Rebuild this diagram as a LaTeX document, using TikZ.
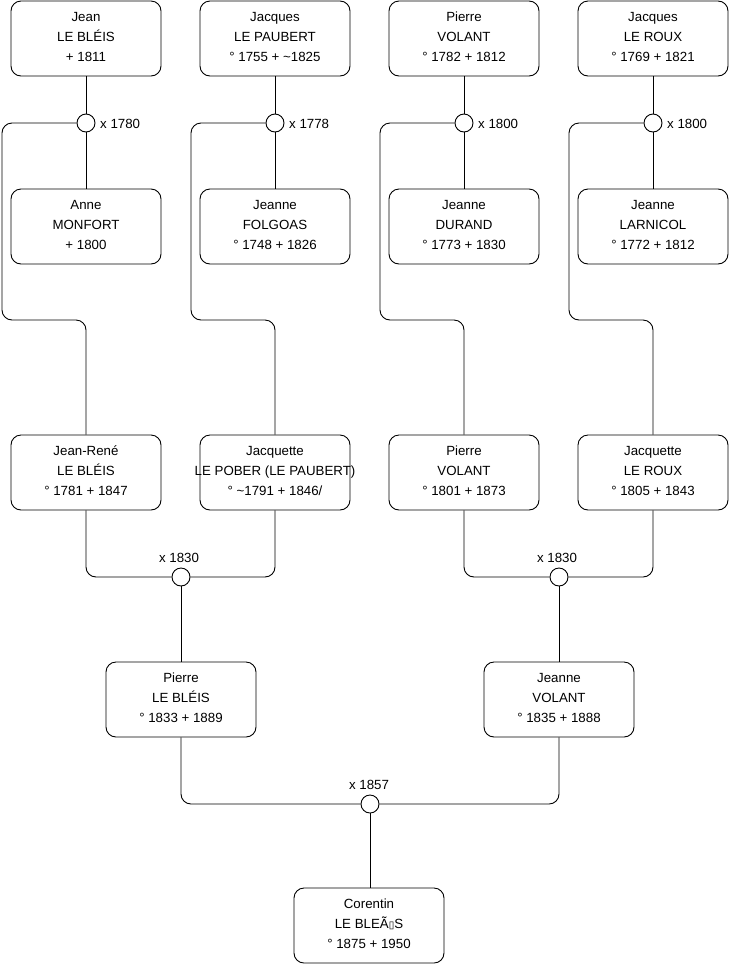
\documentclass[tikz,border=0pt]{standalone}
\usepackage{fontspec}
\setmainfont{Liberation Sans}
\newfontfamily\symfont{DejaVu Sans}
\begin{document}
\begin{tikzpicture}[x=1pt,y=-1pt,
  person/.style={draw=black,line width=0.9pt,rounded corners=10pt,fill=white,minimum width=150pt,minimum height=75pt,inner sep=0pt,align=center,font=\fontsize{13.3}{20}\selectfont,text depth=4pt},
  marr/.style={draw=black,line width=0.9pt,circle,fill=white,minimum size=18pt,inner sep=0pt},
  lbl/.style={font=\fontsize{13.3}{14}\selectfont,inner sep=0pt},
  conn/.style={draw=black,line width=0.9pt,rounded corners=10pt}]
\useasboundingbox (0,0) rectangle (740,975);
% row 1
\node[person] (a1) at (86,38.5) {Jean\\LE BLÉIS\\+ 1811};
\node[person] (b1) at (275,38.5) {Jacques\\LE PAUBERT\\° 1755 + \textasciitilde1825};
\node[person] (c1) at (464,38.5) {Pierre\\VOLANT\\° 1782 + 1812};
\node[person] (d1) at (653,38.5) {Jacques\\LE ROUX\\° 1769 + 1821};
% marriage circles row 1
\node[marr] (ma) at (86,123) {};
\node[marr] (mb) at (275,123) {};
\node[marr] (mc) at (464,123) {};
\node[marr] (md) at (653,123) {};
\node[lbl,anchor=west] (la) at (100,123.5) {x 1780};
\node[lbl,anchor=west] (lb) at (289,123.5) {x 1778};
\node[lbl,anchor=west] (lc) at (478,123.5) {x 1800};
\node[lbl,anchor=west] (ld) at (667,123.5) {x 1800};
% row 2
\node[person] (a2) at (86,226.5) {Anne\\MONFORT\\+ 1800};
\node[person] (b2) at (275,226.5) {Jeanne\\FOLGOAS\\° 1748 + 1826};
\node[person] (c2) at (464,226.5) {Jeanne\\DURAND\\° 1773 + 1830};
\node[person] (d2) at (653,226.5) {Jeanne\\LARNICOL\\° 1772 + 1812};
% row 3
\node[person] (a3) at (86,472.5) {Jean-René\\LE BLÉIS\\° 1781 + 1847};
\node[person] (b3) at (275,472.5) {Jacquette\\\makebox[0pt][c]{LE POBER (LE PAUBERT)}\\° \textasciitilde1791 + 1846/};
\node[person] (c3) at (464,472.5) {Pierre\\VOLANT\\° 1801 + 1873};
\node[person] (d3) at (653,472.5) {Jacquette\\LE ROUX\\° 1805 + 1843};
% row 3 marriages
\node[marr] (mab) at (181,577) {};
\node[marr] (mcd) at (559,577) {};
\node[lbl] (lab) at (179,558) {x 1830};
\node[lbl] (lcd) at (557,558) {x 1830};
% row 4
\node[person] (p4) at (181,699.5) {Pierre\\LE BLÉIS\\° 1833 + 1889};
\node[person] (j4) at (559,699.5) {Jeanne\\VOLANT\\° 1835 + 1888};
\node[marr] (mpj) at (370,804) {};
\node[lbl] (lpj) at (369,785) {x 1857};
% row 5
\node[person] (co) at (369,925.5) {Corentin\\LE BLEÃ{\symfont\fontsize{10}{10}\selectfont ▯}S\\° 1875 + 1950};
% connectors top
\foreach \p/\m/\k in {a1/ma/a2,b1/mb/b2,c1/mc/c2,d1/md/d2}{
  \draw[conn] (\p.south) -- (\m.north);
  \draw[conn] (\m.south) -- (\k.north);
}
\coordinate (ka) at (2,123); \coordinate (ka2) at (2,320);
\coordinate (kb) at (191,123); \coordinate (kb2) at (191,320);
\coordinate (kc) at (380,123); \coordinate (kc2) at (380,320);
\coordinate (kd) at (569,123); \coordinate (kd2) at (569,320);
\draw[conn] (ma.west) -- (ka) -- (ka2) -| (a3.north);
\draw[conn] (mb.west) -- (kb) -- (kb2) -| (b3.north);
\draw[conn] (mc.west) -- (kc) -- (kc2) -| (c3.north);
\draw[conn] (md.west) -- (kd) -- (kd2) -| (d3.north);
% row 3 connectors
\draw[conn] (a3.south) |- (mab.west);
\draw[conn] (b3.south) |- (mab.east);
\draw[conn] (c3.south) |- (mcd.west);
\draw[conn] (d3.south) |- (mcd.east);
\draw[conn] (mab.south) -- (p4.north);
\draw[conn] (mcd.south) -- (j4.north);
\draw[conn] (p4.south) |- (mpj.west);
\draw[conn] (j4.south) |- (mpj.east);
\draw[conn] (mpj.south) -- (mpj.south |- co.north);
\end{tikzpicture}
\end{document}
